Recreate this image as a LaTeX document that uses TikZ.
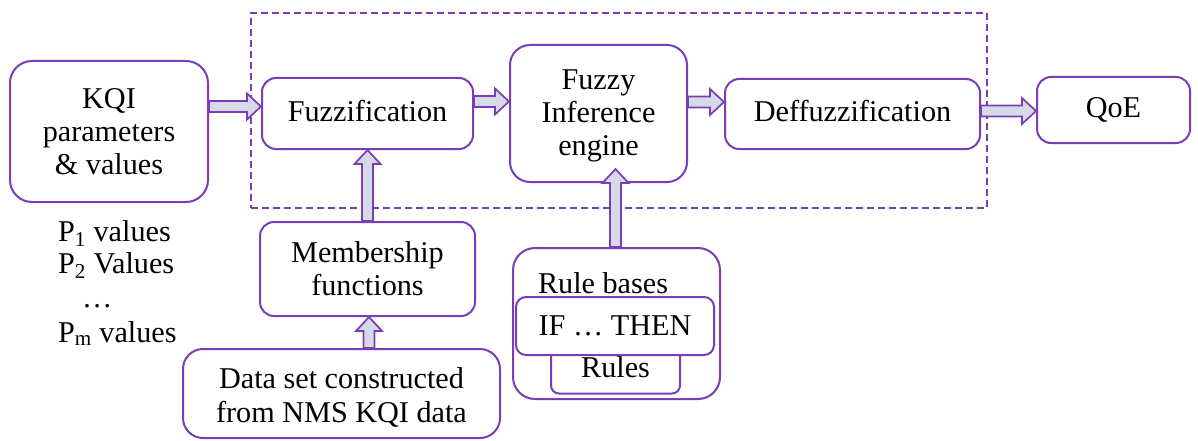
\documentclass[tikz,border=0pt]{standalone}
\usepackage{fontspec}
\setmainfont{Liberation Serif}
\usetikzlibrary{calc}
\definecolor{pur}{HTML}{7A3DB8}
\definecolor{afill}{HTML}{D6DAE6}
\newcommand{\bigsz}{\fontsize{30.2}{33.2}\selectfont}
\newcommand{\blockh}[3]{%
  \draw[barrow] let \p1=(#1), \p2=(#2) in
    (\x1,{-#3pt+5.5pt}) -- ({\x2-14pt},{-#3pt+5.5pt}) -- ({\x2-14pt},{-#3pt+13pt})
    -- (\x2,{-#3pt}) -- ({\x2-14pt},{-#3pt-13pt}) -- ({\x2-14pt},{-#3pt-5.5pt})
    -- (\x1,{-#3pt-5.5pt}) -- cycle;}
\newcommand{\blockv}[3]{%
  \draw[barrow] let \p1=(#1), \p2=(#2) in
    ({#3pt-5.5pt},\y1) -- ({#3pt-5.5pt},{\y2-14pt}) -- ({#3pt-13pt},{\y2-14pt})
    -- (#3pt,\y2) -- ({#3pt+13pt},{\y2-14pt}) -- ({#3pt+5.5pt},{\y2-14pt})
    -- ({#3pt+5.5pt},\y1) -- cycle;}
\begin{document}
\begin{tikzpicture}[x=1pt,y=-1pt,
  box/.style={draw=pur, line width=2pt, rounded corners=#1, fill=white,
    align=center, inner sep=0pt, font=\bigsz},
  box/.default=14pt,
  plain/.style={inner sep=0pt, font=\bigsz},
  frame/.style={draw=pur, line width=1.7pt, dash pattern=on 7pt off 4pt, inner sep=0pt},
  barrow/.style={draw=pur, line width=1.7pt, fill=afill, line join=miter}]
\useasboundingbox (0,0) rectangle (1198,441);
% dashed frame
\node[frame, minimum width=736pt, minimum height=195pt] (frm) at (619,110.5) {};
% boxes
\node[box=22pt, minimum width=198pt, minimum height=141pt] (kqi) at (109,131.5) {KQI\\parameters\\\& values};
\node[box, minimum width=211pt, minimum height=71pt, text depth=6pt] (fuzz) at (367.5,113.5) {Fuzzification};
\node[box=20pt, minimum width=177pt, minimum height=137pt, text height=91pt] (fie) at (598.5,113.5) {Fuzzy\\Inference\\engine};
\node[box, minimum width=255pt, minimum height=70pt, text depth=6pt] (deff) at (852.5,114) {Deffuzzification};
\node[box, minimum width=153pt, minimum height=66pt] (qoe) at (1113.5,110) {QoE};
\node[box, minimum width=215pt, minimum height=94pt] (memb) at (367.5,269) {Membership\\functions};
\node[box=20pt, minimum width=317pt, minimum height=89pt, text height=62pt] (data) at (341.5,393.5) {Data set constructed\\from NMS KQI data};
\node[box=22pt, minimum width=207pt, minimum height=151pt] (rb) at (616.5,323.5) {};
\node[plain, anchor=base] (rbt) at (603,293) {Rule bases};
\node[box=8pt, minimum width=129pt, minimum height=53pt] (rules) at (615.5,367) {Rules};
\node[box=10pt, minimum width=198pt, minimum height=58pt] (ifthen) at (615,326) {IF … THEN};
% P values
\node[plain, anchor=base west] (pa) at (58,241) {P\textsubscript{1} values};
\node[plain, anchor=base west] (pb) at (58,273) {P\textsubscript{2} Values};
\node[plain, anchor=base west] (pc) at (82,307) {…};
\node[plain, anchor=base west] (pd) at (58,342) {P\textsubscript{m} values};
% arrows
\coordinate (fietip) at ($(fie.south)+(0,-14)$);
\blockh{kqi.east}{fuzz.west}{106.5}
\blockh{fuzz.east}{fie.west}{101.5}
\blockh{fie.east}{deff.west}{102}
\blockh{deff.east}{qoe.west}{111}
\blockv{memb.north}{fuzz.south}{367.5}
\blockv{data.north}{memb.south}{369}
\blockv{rb.north}{fietip}{615.5}
\end{tikzpicture}
\end{document}
